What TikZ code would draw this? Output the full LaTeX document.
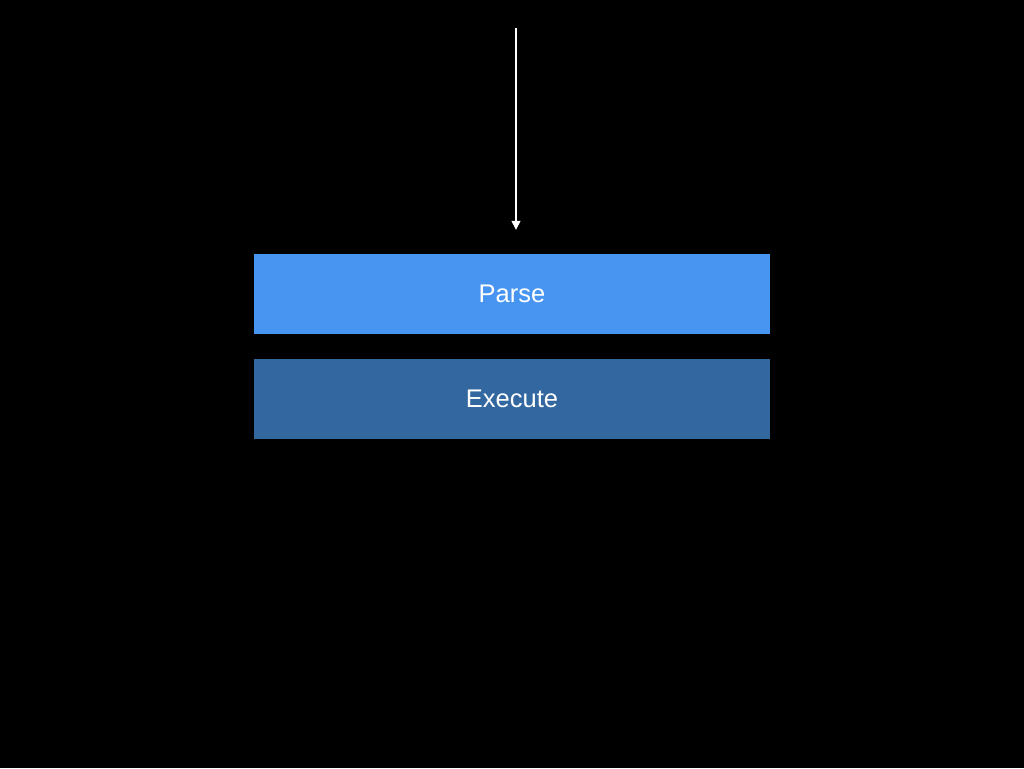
\documentclass[tikz,border=0pt]{standalone}
\usepackage{fontspec}
\setmainfont{Liberation Sans}
\usetikzlibrary{arrows.meta}
\definecolor{parseblue}{HTML}{4795F1}
\definecolor{execblue}{HTML}{33679F}
\tikzset{
  stage/.style={minimum width=516pt, minimum height=80pt, inner sep=0pt, text=white, font=\fontsize{25.5}{30}\selectfont},
  flow/.style={draw=white, line width=1.3pt, -{Triangle[width=9pt,length=9pt]}}
}
\begin{document}
\begin{tikzpicture}[x=1pt,y=-1pt]
\fill[black] (0,0) rectangle (1024,768);
\useasboundingbox (0,0) rectangle (1024,768);
\node[stage, fill=parseblue] (parse) at (512,294) {Parse};
\node[stage, fill=execblue] (exec) at (512,399) {Execute};
\coordinate (start) at (516,28);
\draw[flow, shorten >=24pt] (start) -- (start |- parse.north);
\end{tikzpicture}
\end{document}
